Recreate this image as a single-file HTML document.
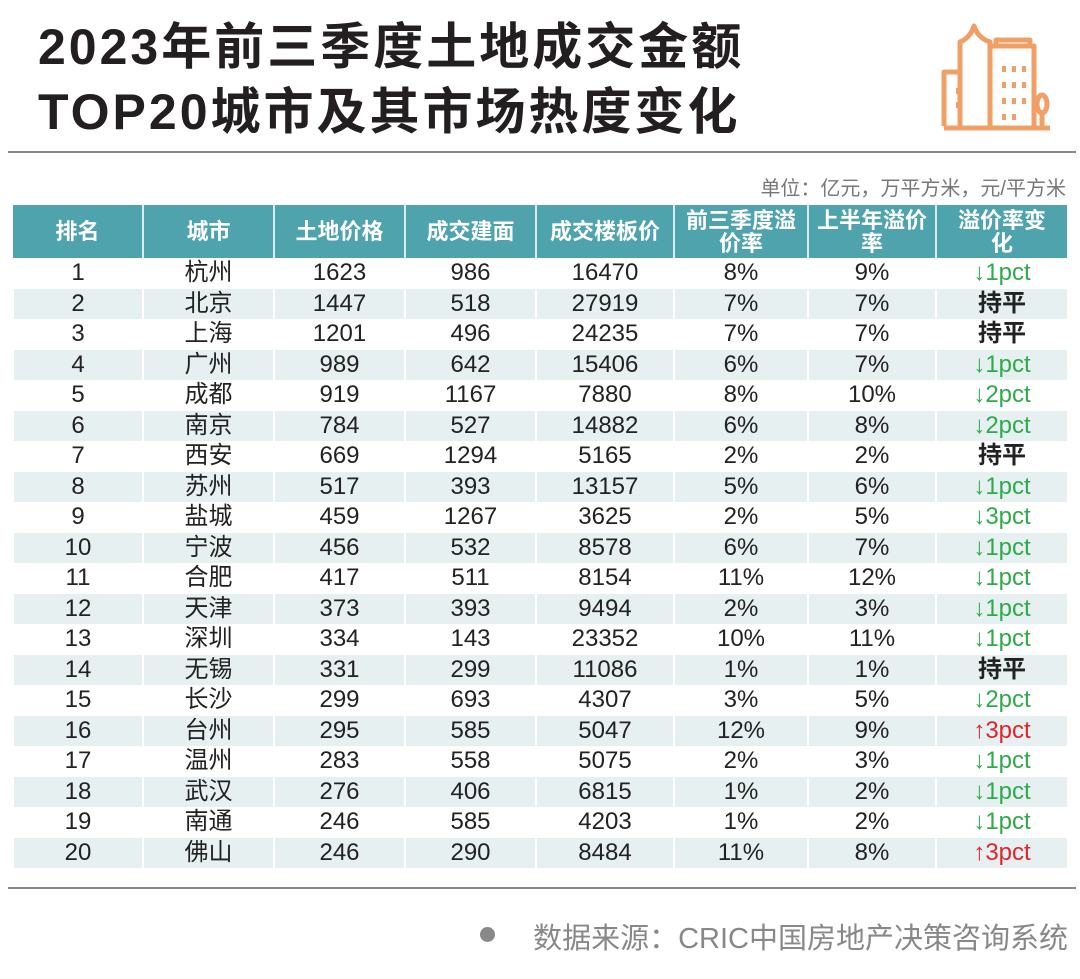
<!DOCTYPE html>
<html><head><meta charset="utf-8"><style>
body{margin:0;width:1080px;height:979px;background:#fff;position:relative;overflow:hidden;font-family:"Liberation Sans","Noto Sans CJK SC",sans-serif;color:#222}
.t{position:absolute;left:38px;font-size:50px;font-weight:bold;letter-spacing:3px;color:#231f20;line-height:1}
.hr{position:absolute;height:2px;background:#888;left:8px;width:1068px}
table{position:absolute;left:12px;top:205px;width:1054px;border-collapse:collapse;table-layout:fixed}
th{background:#4fa3ad;color:#fff;font-size:22px;font-weight:bold;height:53px;line-height:23px;border-left:2px solid #d8ecee;padding:0 8px}
th:first-child{border-left:none}
td{height:30.5px;padding:0;text-align:center;font-size:24px;line-height:30px;border-left:2px solid #fff}
tr:nth-child(odd) td{background:#e6f0f1}
.g{color:#2eaa4a}.r{color:#e0242a}.b{font-weight:bold}
</style></head><body>
<div class="t" style="top:22px">2023年前三季度土地成交金额</div>
<div class="t" style="top:87px">TOP20城市及其市场热度变化</div>
<svg style="position:absolute;left:940px;top:22px" width="115" height="112" viewBox="0 0 115 112" fill="none" stroke="#f0a066" stroke-width="5" stroke-linejoin="round">
<path d="M4 106 H110"/><path d="M4 104 V50 H20 V104"/><path d="M20 50 V20 Q30 16 34 4 Q38 16 50 20 V104"/>
<path d="M50 104 V24 H94 V104"/><path d="M56 24 V18 H90 V24"/>
<g stroke-width="4"><path d="M18 66v6M18 80v6M64 44v6M74 44v6M84 44v6M64 60v6M74 60v6M84 60v6M64 76v6M74 76v6M84 76v6M64 92v6M74 92v6"/></g>
<path d="M102 104 V88"/><ellipse cx="102" cy="82" rx="5" ry="9"/>
</svg>
<div class="hr" style="top:151px"></div>
<div style="position:absolute;right:14px;top:172px;font-size:20px;color:#777">单位：亿元，万平方米，元/平方米</div>
<table>
<colgroup><col style="width:130px"><col style="width:131px"><col style="width:131px"><col style="width:131px"><col style="width:138px"><col style="width:134px"><col style="width:128px"><col style="width:131px"></colgroup>
<tr><th>排名</th><th>城市</th><th>土地价格</th><th>成交建面</th><th>成交楼板价</th><th>前三季度溢价率</th><th>上半年溢价率</th><th style="padding:0 12px">溢价率变化</th></tr>
<tr><td>1</td><td>杭州</td><td>1623</td><td>986</td><td>16470</td><td>8%</td><td>9%</td><td class="g">↓1pct</td></tr>
<tr><td>2</td><td>北京</td><td>1447</td><td>518</td><td>27919</td><td>7%</td><td>7%</td><td class="b">持平</td></tr>
<tr><td>3</td><td>上海</td><td>1201</td><td>496</td><td>24235</td><td>7%</td><td>7%</td><td class="b">持平</td></tr>
<tr><td>4</td><td>广州</td><td>989</td><td>642</td><td>15406</td><td>6%</td><td>7%</td><td class="g">↓1pct</td></tr>
<tr><td>5</td><td>成都</td><td>919</td><td>1167</td><td>7880</td><td>8%</td><td>10%</td><td class="g">↓2pct</td></tr>
<tr><td>6</td><td>南京</td><td>784</td><td>527</td><td>14882</td><td>6%</td><td>8%</td><td class="g">↓2pct</td></tr>
<tr><td>7</td><td>西安</td><td>669</td><td>1294</td><td>5165</td><td>2%</td><td>2%</td><td class="b">持平</td></tr>
<tr><td>8</td><td>苏州</td><td>517</td><td>393</td><td>13157</td><td>5%</td><td>6%</td><td class="g">↓1pct</td></tr>
<tr><td>9</td><td>盐城</td><td>459</td><td>1267</td><td>3625</td><td>2%</td><td>5%</td><td class="g">↓3pct</td></tr>
<tr><td>10</td><td>宁波</td><td>456</td><td>532</td><td>8578</td><td>6%</td><td>7%</td><td class="g">↓1pct</td></tr>
<tr><td>11</td><td>合肥</td><td>417</td><td>511</td><td>8154</td><td>11%</td><td>12%</td><td class="g">↓1pct</td></tr>
<tr><td>12</td><td>天津</td><td>373</td><td>393</td><td>9494</td><td>2%</td><td>3%</td><td class="g">↓1pct</td></tr>
<tr><td>13</td><td>深圳</td><td>334</td><td>143</td><td>23352</td><td>10%</td><td>11%</td><td class="g">↓1pct</td></tr>
<tr><td>14</td><td>无锡</td><td>331</td><td>299</td><td>11086</td><td>1%</td><td>1%</td><td class="b">持平</td></tr>
<tr><td>15</td><td>长沙</td><td>299</td><td>693</td><td>4307</td><td>3%</td><td>5%</td><td class="g">↓2pct</td></tr>
<tr><td>16</td><td>台州</td><td>295</td><td>585</td><td>5047</td><td>12%</td><td>9%</td><td class="r">↑3pct</td></tr>
<tr><td>17</td><td>温州</td><td>283</td><td>558</td><td>5075</td><td>2%</td><td>3%</td><td class="g">↓1pct</td></tr>
<tr><td>18</td><td>武汉</td><td>276</td><td>406</td><td>6815</td><td>1%</td><td>2%</td><td class="g">↓1pct</td></tr>
<tr><td>19</td><td>南通</td><td>246</td><td>585</td><td>4203</td><td>1%</td><td>2%</td><td class="g">↓1pct</td></tr>
<tr><td>20</td><td>佛山</td><td>246</td><td>290</td><td>8484</td><td>11%</td><td>8%</td><td class="r">↑3pct</td></tr>
</table>
<div class="hr" style="top:887px"></div>
<div style="position:absolute;left:480px;top:927px;width:15px;height:15px;border-radius:50%;background:#888"></div>
<div style="position:absolute;right:12px;top:915px;font-size:29px;color:#888">数据来源：CRIC中国房地产决策咨询系统</div>
</body></html>
